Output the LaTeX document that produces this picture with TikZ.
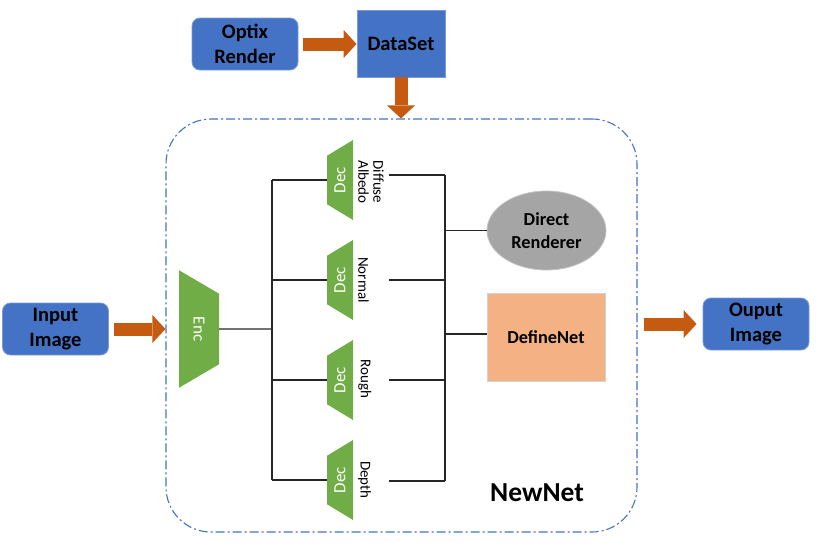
\documentclass[tikz,border=0pt]{standalone}
\usepackage{fontspec}
\setmainfont{Carlito}
\usetikzlibrary{shapes.geometric,arrows.meta}
\definecolor{boxblue}{HTML}{4472C4}
\definecolor{boxedge}{HTML}{7B9AD6}
\definecolor{arrowcol}{HTML}{C55A11}
\definecolor{codergreen}{HTML}{70AD47}
\definecolor{rendergray}{HTML}{A5A5A5}
\definecolor{grayedge}{HTML}{C4C4C4}
\definecolor{peach}{HTML}{F4B183}
\definecolor{peachedge}{HTML}{D2D2D2}
\definecolor{wirecol}{HTML}{262626}
\begin{document}
\begin{tikzpicture}[x=1pt,y=-1pt,
    wire/.style={line width=1.3pt, draw=wirecol},
    fat/.style={line width=13pt, draw=arrowcol, -{Triangle[length=13pt,width=28pt,line width=0pt]}},
    bluebox/.style={fill=boxblue, draw=boxedge, line width=0.8pt, rounded corners=8pt,
        minimum width=106pt, minimum height=52pt, align=center,
        font=\fontsize{20.5}{25}\selectfont\bfseries},
    coder/.style={trapezium, trapezium stretches=true, fill=codergreen, inner sep=0pt,
        text=white, font=\fontsize{17}{17}\selectfont},
    lbl/.style={rotate=-90, anchor=south, inner sep=1pt, align=center,
        font=\fontsize{15}{15}\selectfont}]
    \useasboundingbox (0,0) rectangle (822,549);

    % outer frame
    \node [draw=boxblue, line width=1.1pt, dash pattern=on 9pt off 3pt on 2pt off 3pt,
        rounded corners=45pt, minimum width=471pt, minimum height=413pt] (newnet) at (401.5,325.5) {};
    \node [font=\fontsize{27.5}{30}\selectfont\bfseries] (newnettext) at (537,493) {NewNet};

    % data side
    \node [bluebox] (optix) at (245,44) {Optix\\Render};
    \node [fill=boxblue, draw=boxedge, line width=0.8pt, minimum width=88pt, minimum height=67pt,
        font=\fontsize{20.5}{25}\selectfont\bfseries] (dataset) at (401,43.5) {DataSet};
    \node [bluebox] (input) at (55.5,329) {Input\\Image};
    \node [bluebox] (output) at (756,324) {Ouput\\Image};

    % encoder and decoders
    \node [coder, rotate=-90, minimum width=118pt, minimum height=40pt, trapezium angle=53.6] (enc) at (199,329) {Enc};
    \node [coder, rotate=90, minimum width=80pt, minimum height=26pt, trapezium angle=52.4] (dec1) at (340,180) {Dec};
    \node [coder, rotate=90, minimum width=80pt, minimum height=26pt, trapezium angle=52.4] (dec2) at (340,280) {Dec};
    \node [coder, rotate=90, minimum width=80pt, minimum height=26pt, trapezium angle=52.4] (dec3) at (340,380) {Dec};
    \node [coder, rotate=90, minimum width=80pt, minimum height=26pt, trapezium angle=52.4] (dec4) at (340,480) {Dec};
    \node [lbl] (albedo) at (357,182) {Diffuse\\Albedo};
    \node [lbl] (normal) at (357,280) {Normal};
    \node [lbl] (rough)  at (357,379) {Rough};
    \node [lbl] (depth)  at (357,480) {Depth};

    % renderers
    \node [ellipse, fill=rendergray, draw=grayedge, line width=0.8pt, minimum width=119pt, minimum height=79pt,
        align=center, font=\fontsize{18.3}{22.7}\selectfont\bfseries] (direct) at (546.5,230.5) {Direct\\Renderer};
    \node [fill=peach, draw=peachedge, line width=0.8pt, minimum width=118pt, minimum height=88pt,
        font=\fontsize{18.3}{22}\selectfont\bfseries] (define) at (546,337) {DefineNet};

    \coordinate (lbus) at (272,329);
    \coordinate (rbus) at (445,334);
    \coordinate (out1) at (389,175);
    \coordinate (out2) at (389,280);
    \coordinate (out3) at (389,380);
    \coordinate (out4) at (389,481);

    % wires
    \draw [wire] (enc.north) -- (lbus);
    \draw [wire] (lbus |- dec1.north) -- (lbus |- dec4.north);
    \draw [wire] (lbus |- dec1.north) -- (dec1.north);
    \draw [wire] (lbus |- dec2.north) -- (dec2.north);
    \draw [wire] (lbus |- dec3.north) -- (dec3.north);
    \draw [wire] (lbus |- dec4.north) -- (dec4.north);
    \draw [wire] (rbus |- out1) -- (rbus |- out4);
    \draw [wire] (out1) -- (rbus |- out1);
    \draw [wire] (out2) -- (rbus |- out2);
    \draw [wire] (out3) -- (rbus |- out3);
    \draw [wire] (out4) -- (rbus |- out4);
    \draw [wire] (rbus |- direct.west) -- (direct.west);
    \draw [wire] (rbus) -- (rbus -| define.west);

    % block arrows
    \draw [fat, shorten <=5pt] (optix.east) -- (optix.east -| dataset.west);
    \draw [fat] (dataset.south) -- (dataset.south |- newnet.north);
    \draw [fat, shorten <=5pt] (input.east) -- (input.east -| newnet.west);
    \draw [fat, shorten <=6pt, shorten >=6pt] (newnet.east |- output.west) -- (output.west);
\end{tikzpicture}
\end{document}
